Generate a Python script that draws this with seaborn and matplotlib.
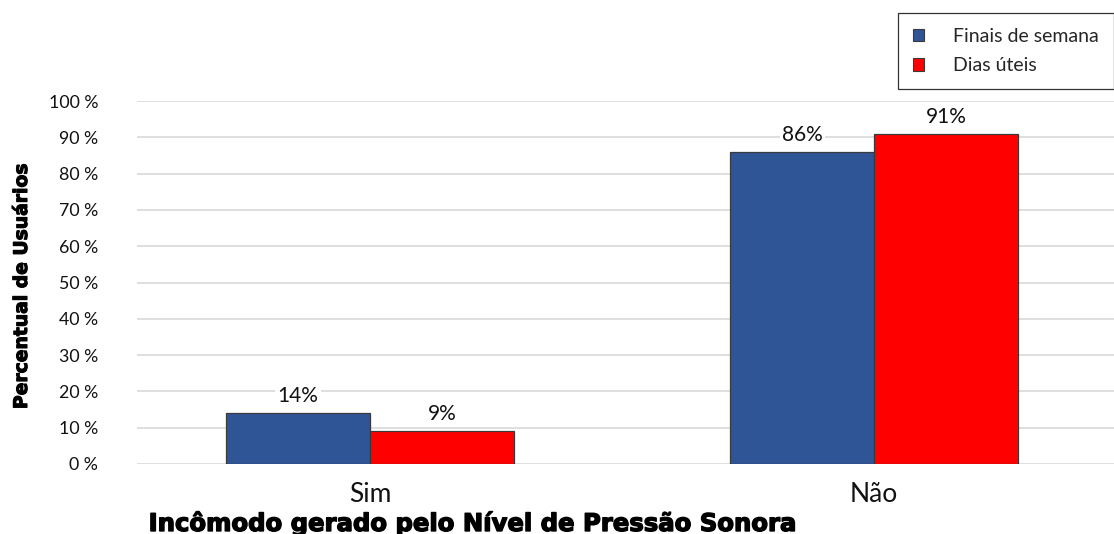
import matplotlib
matplotlib.use("Agg")
import matplotlib.pyplot as plt
import matplotlib.patheffects as pe
import seaborn as sns
import pandas as pd
from matplotlib.patches import Patch

categories = ["Sim", "Não"]
series_names = ["Finais de semana", "Dias úteis"]
finais_de_semana = [14, 86]
dias_uteis = [9, 91]
yticks = [0, 10, 20, 30, 40, 50, 60, 70, 80, 90, 100]
ytick_labels = [f"{v} %" for v in yticks]

df = pd.DataFrame({
    "cat": categories * 2,
    "serie": [series_names[0]] * 2 + [series_names[1]] * 2,
    "val": finais_de_semana + dias_uteis,
})

sns.set_theme(style="white")
plt.rcParams["font.family"] = ["Lato", "DejaVu Sans"]

colors = {"Finais de semana": "#2F5597", "Dias úteis": "#FF0000"}

fig = plt.figure(figsize=(11.14, 5.34), dpi=100)
ax = fig.add_axes([137 / 1114, 70 / 534, 977 / 1114, 363 / 534])

sns.barplot(data=df, x="cat", y="val", hue="serie", order=categories,
            hue_order=series_names, palette=colors, width=0.5714, gap=0,
            saturation=1, edgecolor="#3a3a3a", linewidth=0.9, ax=ax,
            legend=False, zorder=3)

ax.set_ylim(0, 100)
ax.set_xlim(-0.4623, 1.476)
ax.set_yticks(yticks)
ax.set_yticklabels(ytick_labels)
ax.yaxis.grid(True, color="#d9d9d9", linewidth=1.2, zorder=0)
ax.set_axisbelow(True)
for s in ax.spines.values():
    s.set_visible(False)
ax.tick_params(axis="y", length=0, pad=28, labelsize=12.8, labelcolor="#111111")
ax.tick_params(axis="x", length=0, pad=13, labelsize=19, labelcolor="#111111")

for cont in ax.containers:
    labels = [f"{int(round(b.get_height()))}%" for b in cont]
    ax.bar_label(cont, labels=labels, padding=5, fontsize=15, color="#111111",
                 bbox=dict(facecolor="white", edgecolor="none", pad=1.5), zorder=4)

xl = ax.set_xlabel("Incômodo gerado pelo Nível de Pressão Sonora", fontsize=17.5,
                   fontweight="heavy", family=["DejaVu Sans"], color="black")
xl.set_path_effects([pe.withStroke(linewidth=1.0, foreground="black")])
ax.xaxis.set_label_coords(0.342, -0.128)
yl = ax.set_ylabel("Percentual de Usuários", fontsize=13.5, fontweight="bold",
                   family=["DejaVu Sans"], color="black")
yl.set_path_effects([pe.withStroke(linewidth=0.8, foreground="black")])
ax.yaxis.set_label_coords(-0.1085, 0.49)

handles = [Patch(facecolor=colors[n], edgecolor="#3a3a3a", linewidth=0.8) for n in series_names]
leg = fig.legend(handles, series_names, loc="upper left",
                 bbox_to_anchor=(898 / 1114, 1 - 13 / 534), frameon=True,
                 fontsize=14, handlelength=0.6, handleheight=0.6,
                 handletextpad=1.5, borderpad=0.75, labelspacing=0.65,
                 fancybox=False, borderaxespad=0)
leg.get_frame().set_edgecolor("black")
leg.get_frame().set_linewidth(0.9)

fig.savefig("out.png", dpi=100)
